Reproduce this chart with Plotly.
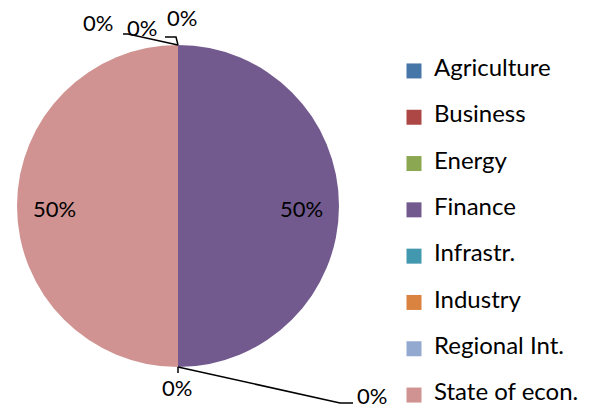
import math
import plotly.graph_objects as go

# Slice data
CATEGORIES = ["Agriculture", "Business", "Energy", "Finance",
              "Infrastr.", "Industry", "Regional Int.", "State of econ."]
SHARES = [0, 0, 0, 50, 0, 0, 0, 50]
COLORS = ["#4675A8", "#AC4745", "#8CA751", "#725A8F",
          "#4298AF", "#DA8240", "#93A9CF", "#D09391"]

W, H = 592, 410
FONT = "Lato, Calibri, sans-serif"

# pie placement in pixels
CX, CY, R = 178, 206, 161


def pp(x, y):
    """Pixel position -> paper coords."""
    return x / W, 1 - y / H


fig = go.Figure()

fig.add_trace(
    go.Pie(
        labels=CATEGORIES,
        values=SHARES,
        sort=False,
        direction="clockwise",
        rotation=0,
        marker=dict(colors=COLORS, line=dict(width=0)),
        textinfo="none",
        domain=dict(x=[(CX - R) / W, (CX + R) / W],
                    y=[1 - (CY + R) / H, 1 - (CY - R) / H]),
        showlegend=False,
        hoverinfo="label+percent",
    )
)

# percentage labels of the non-empty slices, placed at 0.77 R on the mid angle
total = sum(SHARES)
start = 0.0
for v in SHARES:
    frac = v / total
    if v > 0:
        mid = 2 * math.pi * (start + frac / 2)
        lx, ly = pp(CX + 0.77 * R * math.sin(mid), CY - 0.77 * R * math.cos(mid) + 2)
        fig.add_annotation(x=lx, y=ly, xref="paper", yref="paper",
                           text=f"{frac:.0%}", showarrow=False,
                           xanchor="center", yanchor="middle",
                           font=dict(family=FONT, size=22, color="#000000"))
    start += frac

# labels for the empty slices, with leader lines
zero_labels = [(98, 22), (142, 27), (182, 17), (177, 387), (372, 395)]
for x, y in zero_labels:
    ax, ay = pp(x, y)
    fig.add_annotation(x=ax, y=ay, xref="paper", yref="paper", text="0%",
                       showarrow=False, xanchor="center", yanchor="middle",
                       font=dict(family=FONT, size=22, color="#000000"))

leaders = [
    [(123, 34), (128, 34), (178, 45)],
    [(165, 37), (176, 37), (178, 45)],
    [(178, 373), (178, 367)],
    [(353, 403), (340, 403), (178, 367)],
]
for pts in leaders:
    path = "M " + " L ".join(f"{pp(x, y)[0]},{pp(x, y)[1]}" for x, y in pts)
    fig.add_shape(type="path", path=path, xref="paper", yref="paper",
                  line=dict(color="#000000", width=1.5))

# legend entries, one group each so the rows can be spaced out.
# the legend font is kept small so the rows are short (the box must fit
# inside the page), the visible text size comes from the span.
for i, (name, color) in enumerate(zip(CATEGORIES, COLORS)):
    fig.add_trace(
        go.Scatter(
            x=[None], y=[None], mode="markers",
            name=f"<span style='font-size:24px'>{name}</span>",
            legendgroup=f"g{i}",
            marker=dict(symbol="square", size=15, color=color),
        )
    )

fig.update_layout(
    width=W,
    height=H,
    margin=dict(l=0, r=0, t=0, b=0),
    paper_bgcolor="#ffffff",
    plot_bgcolor="#ffffff",
    xaxis=dict(visible=False),
    yaxis=dict(visible=False),
    font=dict(family=FONT, size=24, color="#000000"),
    legend=dict(
        x=394 / W, xanchor="left",
        y=1 - 59 / H, yanchor="top",
        tracegroupgap=26.4,
        font=dict(family=FONT, size=13, color="#000000"),
        bgcolor="rgba(0,0,0,0)",
    ),
)

fig.write_html(
    "out.html",
    config={"displayModeBar": False},
    post_script="document.body.style.margin = '0';",
)
